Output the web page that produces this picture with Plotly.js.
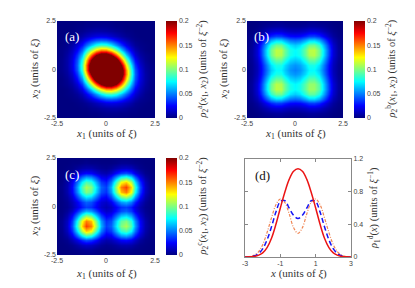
<!DOCTYPE html>
<html>
<head>
<meta charset="utf-8">
<script src="https://cdn.plot.ly/plotly-3.0.1.min.js"></script>
<style>html,body{margin:0;padding:0;background:#fff;}#chart{width:415px;height:288px;}</style>
</head>
<body>
<div id="chart"></div>
<script>
// ---------- DATA ----------
const gridX = [-2.5,-2.25,-2,-1.75,-1.5,-1.25,-1,-0.75,-0.5,-0.25,0,0.25,0.5,0.75,1,1.25,1.5,1.75,2,2.25,2.5];

// panel (a): rho_2(x1,x2), rows = x2 from -2.5 to 2.5, columns = x1
const zA = [
[0,0,0,0,0,0,0,0,0,0.001,0.001,0.001,0.001,0.001,0.001,0,0,0,0,0,0],
[0,0,0,0,0,0,0,0.001,0.001,0.002,0.003,0.003,0.003,0.002,0.002,0.001,0.001,0,0,0,0],
[0,0,0,0,0,0.001,0.001,0.003,0.004,0.006,0.007,0.008,0.008,0.007,0.005,0.003,0.002,0.001,0,0,0],
[0,0,0,0,0.001,0.002,0.004,0.007,0.011,0.015,0.019,0.020,0.019,0.016,0.012,0.008,0.004,0.002,0.001,0,0],
[0,0,0,0.001,0.002,0.005,0.010,0.017,0.026,0.035,0.042,0.044,0.041,0.034,0.024,0.016,0.009,0.004,0.002,0.001,0],
[0,0,0.001,0.002,0.005,0.011,0.021,0.036,0.054,0.072,0.084,0.087,0.079,0.063,0.045,0.028,0.016,0.008,0.003,0.001,0],
[0,0,0.001,0.004,0.010,0.021,0.040,0.067,0.099,0.128,0.147,0.149,0.133,0.105,0.073,0.045,0.024,0.012,0.005,0.002,0.001],
[0,0.001,0.003,0.007,0.017,0.036,0.067,0.110,0.159,0.202,0.228,0.226,0.199,0.154,0.105,0.063,0.034,0.016,0.007,0.002,0.001],
[0,0.001,0.004,0.011,0.026,0.054,0.099,0.159,0.225,0.282,0.312,0.304,0.262,0.199,0.133,0.079,0.041,0.019,0.008,0.003,0.001],
[0.001,0.002,0.006,0.015,0.035,0.072,0.128,0.202,0.282,0.346,0.376,0.360,0.304,0.226,0.149,0.087,0.044,0.020,0.008,0.003,0.001],
[0.001,0.003,0.007,0.019,0.042,0.084,0.147,0.228,0.312,0.376,0.400,0.376,0.312,0.228,0.147,0.084,0.042,0.019,0.007,0.003,0.001],
[0.001,0.003,0.008,0.020,0.044,0.087,0.149,0.226,0.304,0.360,0.376,0.346,0.282,0.202,0.128,0.072,0.035,0.015,0.006,0.002,0.001],
[0.001,0.003,0.008,0.019,0.041,0.079,0.133,0.199,0.262,0.304,0.312,0.282,0.225,0.159,0.099,0.054,0.026,0.011,0.004,0.001,0],
[0.001,0.002,0.007,0.016,0.034,0.063,0.105,0.154,0.199,0.226,0.228,0.202,0.159,0.110,0.067,0.036,0.017,0.007,0.003,0.001,0],
[0.001,0.002,0.005,0.012,0.024,0.045,0.073,0.105,0.133,0.149,0.147,0.128,0.099,0.067,0.040,0.021,0.010,0.004,0.001,0,0],
[0,0.001,0.003,0.008,0.016,0.028,0.045,0.063,0.079,0.087,0.084,0.072,0.054,0.036,0.021,0.011,0.005,0.002,0.001,0,0],
[0,0.001,0.002,0.004,0.009,0.016,0.024,0.034,0.041,0.044,0.042,0.035,0.026,0.017,0.010,0.005,0.002,0.001,0,0,0],
[0,0,0.001,0.002,0.004,0.008,0.012,0.016,0.019,0.020,0.019,0.015,0.011,0.007,0.004,0.002,0.001,0,0,0,0],
[0,0,0,0.001,0.002,0.003,0.005,0.007,0.008,0.008,0.007,0.006,0.004,0.003,0.001,0.001,0,0,0,0,0],
[0,0,0,0,0.001,0.001,0.002,0.002,0.003,0.003,0.003,0.002,0.001,0.001,0,0,0,0,0,0,0],
[0,0,0,0,0,0,0.001,0.001,0.001,0.001,0.001,0.001,0,0,0,0,0,0,0,0,0]
];

// panel (b)
const zB = [
[0,0,0,0.001,0.001,0.001,0.002,0.002,0.001,0.001,0.001,0.001,0.001,0.002,0.002,0.001,0.001,0.001,0,0,0],
[0,0,0.001,0.002,0.004,0.005,0.006,0.006,0.005,0.004,0.004,0.004,0.005,0.006,0.006,0.005,0.004,0.002,0.001,0,0],
[0,0.001,0.003,0.006,0.010,0.015,0.017,0.017,0.014,0.012,0.011,0.012,0.014,0.017,0.017,0.015,0.010,0.006,0.003,0.001,0],
[0.001,0.002,0.006,0.012,0.022,0.032,0.037,0.036,0.031,0.026,0.025,0.026,0.031,0.036,0.037,0.032,0.022,0.012,0.006,0.002,0.001],
[0.001,0.004,0.010,0.022,0.040,0.058,0.067,0.066,0.057,0.048,0.045,0.048,0.057,0.066,0.067,0.058,0.040,0.022,0.010,0.004,0.001],
[0.001,0.005,0.015,0.032,0.058,0.084,0.097,0.096,0.083,0.070,0.065,0.070,0.083,0.094,0.093,0.081,0.056,0.031,0.015,0.005,0.001],
[0.002,0.006,0.017,0.037,0.067,0.097,0.112,0.111,0.095,0.080,0.075,0.080,0.093,0.106,0.105,0.092,0.064,0.036,0.017,0.006,0.002],
[0.002,0.006,0.017,0.036,0.066,0.096,0.111,0.109,0.094,0.079,0.074,0.079,0.092,0.104,0.104,0.091,0.063,0.035,0.017,0.006,0.002],
[0.001,0.005,0.014,0.031,0.057,0.083,0.095,0.094,0.081,0.068,0.064,0.068,0.081,0.092,0.092,0.080,0.056,0.031,0.014,0.005,0.001],
[0.001,0.004,0.012,0.026,0.048,0.070,0.080,0.079,0.068,0.058,0.054,0.058,0.068,0.079,0.080,0.070,0.048,0.026,0.012,0.004,0.001],
[0.001,0.004,0.011,0.025,0.045,0.065,0.075,0.074,0.064,0.054,0.050,0.054,0.064,0.074,0.075,0.065,0.045,0.025,0.011,0.004,0.001],
[0.001,0.004,0.012,0.026,0.048,0.070,0.080,0.079,0.068,0.058,0.054,0.058,0.068,0.079,0.080,0.070,0.048,0.026,0.012,0.004,0.001],
[0.001,0.005,0.014,0.031,0.057,0.083,0.095,0.094,0.081,0.068,0.064,0.068,0.081,0.094,0.095,0.083,0.057,0.031,0.014,0.005,0.001],
[0.002,0.006,0.017,0.036,0.066,0.096,0.111,0.109,0.094,0.079,0.074,0.079,0.094,0.109,0.111,0.096,0.066,0.036,0.017,0.006,0.002],
[0.002,0.006,0.017,0.037,0.067,0.097,0.112,0.111,0.095,0.080,0.075,0.080,0.095,0.111,0.112,0.097,0.067,0.037,0.017,0.006,0.002],
[0.001,0.005,0.015,0.032,0.058,0.084,0.097,0.096,0.083,0.070,0.065,0.070,0.083,0.096,0.097,0.084,0.058,0.032,0.015,0.005,0.001],
[0.001,0.004,0.010,0.022,0.040,0.058,0.067,0.066,0.057,0.048,0.045,0.048,0.057,0.066,0.067,0.058,0.040,0.022,0.010,0.004,0.001],
[0.001,0.002,0.006,0.012,0.022,0.032,0.037,0.036,0.031,0.026,0.025,0.026,0.031,0.036,0.037,0.032,0.022,0.012,0.006,0.002,0.001],
[0,0.001,0.003,0.006,0.010,0.015,0.017,0.017,0.014,0.012,0.011,0.012,0.014,0.017,0.017,0.015,0.010,0.006,0.003,0.001,0],
[0,0,0.001,0.002,0.004,0.005,0.006,0.006,0.005,0.004,0.004,0.004,0.005,0.006,0.006,0.005,0.004,0.002,0.001,0,0],
[0,0,0,0.001,0.001,0.001,0.002,0.002,0.001,0.001,0.001,0.001,0.001,0.002,0.002,0.001,0.001,0.001,0,0,0]
];

// panel (c)
const zC = [
[0,0,0,0,0,0.001,0.001,0.001,0.001,0,0,0,0,0,0.001,0,0,0,0,0,0],
[0,0,0,0.001,0.002,0.003,0.004,0.004,0.002,0.001,0.001,0.001,0.002,0.002,0.003,0.002,0.001,0.001,0,0,0],
[0,0,0.001,0.003,0.007,0.012,0.014,0.013,0.009,0.005,0.003,0.004,0.006,0.009,0.009,0.008,0.005,0.002,0.001,0,0],
[0,0.001,0.003,0.010,0.020,0.033,0.040,0.036,0.026,0.014,0.009,0.011,0.017,0.024,0.026,0.022,0.014,0.006,0.002,0.001,0],
[0,0.002,0.007,0.020,0.043,0.069,0.084,0.077,0.054,0.031,0.019,0.022,0.037,0.052,0.056,0.046,0.029,0.014,0.005,0.001,0],
[0.001,0.003,0.012,0.033,0.069,0.111,0.134,0.124,0.087,0.049,0.030,0.036,0.059,0.083,0.090,0.074,0.046,0.022,0.008,0.002,0],
[0.001,0.004,0.014,0.040,0.084,0.134,0.163,0.150,0.106,0.060,0.037,0.044,0.071,0.100,0.109,0.090,0.056,0.026,0.009,0.003,0.001],
[0.001,0.004,0.013,0.036,0.077,0.124,0.150,0.138,0.097,0.055,0.034,0.040,0.066,0.093,0.100,0.083,0.052,0.024,0.009,0.002,0],
[0.001,0.002,0.009,0.026,0.054,0.087,0.106,0.097,0.068,0.039,0.024,0.028,0.047,0.066,0.071,0.059,0.037,0.017,0.006,0.002,0],
[0,0.001,0.005,0.014,0.031,0.049,0.060,0.055,0.039,0.022,0.014,0.017,0.028,0.040,0.044,0.036,0.022,0.011,0.004,0.001,0],
[0,0.001,0.003,0.009,0.019,0.030,0.037,0.034,0.024,0.014,0.010,0.014,0.024,0.034,0.037,0.030,0.019,0.009,0.003,0.001,0],
[0,0.001,0.004,0.011,0.022,0.036,0.044,0.040,0.028,0.017,0.014,0.022,0.039,0.055,0.060,0.049,0.031,0.014,0.005,0.001,0],
[0,0.002,0.006,0.017,0.037,0.059,0.071,0.066,0.047,0.028,0.024,0.039,0.068,0.097,0.106,0.087,0.054,0.026,0.009,0.002,0.001],
[0,0.002,0.009,0.024,0.052,0.083,0.100,0.093,0.066,0.040,0.034,0.055,0.097,0.138,0.150,0.124,0.077,0.036,0.013,0.004,0.001],
[0.001,0.003,0.009,0.026,0.056,0.090,0.109,0.100,0.071,0.044,0.037,0.060,0.106,0.150,0.163,0.134,0.084,0.040,0.014,0.004,0.001],
[0,0.002,0.008,0.022,0.046,0.074,0.090,0.083,0.059,0.036,0.030,0.049,0.087,0.124,0.134,0.111,0.069,0.033,0.012,0.003,0.001],
[0,0.001,0.005,0.014,0.029,0.046,0.056,0.052,0.037,0.022,0.019,0.031,0.054,0.077,0.084,0.069,0.043,0.020,0.007,0.002,0],
[0,0.001,0.002,0.006,0.014,0.022,0.026,0.024,0.017,0.011,0.009,0.014,0.026,0.036,0.040,0.033,0.020,0.010,0.003,0.001,0],
[0,0,0.001,0.002,0.005,0.008,0.009,0.009,0.006,0.004,0.003,0.005,0.009,0.013,0.014,0.012,0.007,0.003,0.001,0,0],
[0,0,0,0.001,0.001,0.002,0.003,0.002,0.002,0.001,0.001,0.001,0.002,0.004,0.004,0.003,0.002,0.001,0,0,0],
[0,0,0,0,0,0,0.001,0,0,0,0,0,0.001,0.001,0.001,0.001,0,0,0,0,0]
];

// panel (d): rho_1(x)
const xLine = [-3,-2.75,-2.5,-2.25,-2,-1.75,-1.5,-1.25,-1,-0.75,-0.5,-0.25,0,0.25,0.5,0.75,1,1.25,1.5,1.75,2,2.25,2.5,2.75,3];
const rhoRed    = [0,0.002,0.006,0.02,0.05,0.115,0.23,0.40,0.60,0.79,0.95,1.05,1.08,1.05,0.95,0.79,0.60,0.40,0.23,0.115,0.05,0.02,0.006,0.002,0];
const rhoBlue   = [0,0.003,0.012,0.04,0.10,0.21,0.37,0.55,0.68,0.69,0.60,0.51,0.47,0.51,0.60,0.69,0.68,0.55,0.37,0.21,0.10,0.04,0.012,0.003,0];
const rhoOrange = [0,0.005,0.02,0.06,0.15,0.30,0.48,0.64,0.71,0.67,0.53,0.36,0.29,0.36,0.53,0.67,0.71,0.64,0.48,0.30,0.15,0.06,0.02,0.005,0];

const mapTicks = [-2.5,0,2.5];
const mapTickText = ['-2.5','0','2.5'];
const cbTicks = [0,0.05,0.1,0.15,0.2];
const cbTickText = ['0','0.05','0.1','0.15','0.2'];
const dXTicks = [-3,-1,1,3];
const dXTickText = ['-3','-1','1','3'];
const dYTicks = [0,0.4,0.8,1.2];
const dYTickText = ['0','0.4','0.8','1.2'];

// ---------- LAYOUT HELPERS ----------
const W = 415, H = 288;
const fx = p => p / W;
const fy = p => 1 - p / H;

const jet = [[0,'rgb(0,0,128)'],[0.125,'rgb(0,0,255)'],[0.375,'rgb(0,255,255)'],[0.625,'rgb(255,255,0)'],[0.875,'rgb(255,0,0)'],[1,'rgb(128,0,0)']];
const tickFont = {family:'Liberation Sans, Arial, sans-serif', size:7, color:'#444'};
const serif = 'Liberation Serif, Times New Roman, serif';

function cbar(left, top, bottom){
  return {x:fx(left), xanchor:'left', y:fy((top+bottom)/2), yanchor:'middle',
    len:(bottom-top)/H, lenmode:'fraction', thickness:11, thicknessmode:'pixels',
    xpad:0, ypad:0, outlinewidth:0, tickvals:cbTicks, ticktext:cbTickText, ticks:'',
    tickfont:tickFont};
}
function heat(z, xa, ya, cb){
  return {type:'heatmap', x:gridX, y:gridX, z:z, xaxis:xa, yaxis:ya, colorscale:jet,
    zmin:0, zmax:0.2, zauto:false, zsmooth:'best', colorbar:cb, hoverinfo:'skip'};
}
function mapAxis(domain, anchor){
  return {domain:domain, anchor:anchor, range:[-2.5,2.5], tickvals:mapTicks, ticktext:mapTickText,
    ticks:'', showgrid:false, zeroline:false, showline:false, tickfont:tickFont, fixedrange:true};
}

const traces = [
  heat(zA,'x','y', cbar(166,21,118)),
  heat(zB,'x2','y2', cbar(354,21,118)),
  heat(zC,'x3','y3', cbar(166,158,255)),
  {type:'scatter', mode:'lines', x:xLine, y:rhoOrange, xaxis:'x4', yaxis:'y4',
   line:{color:'rgb(240,135,85)', width:1.2, dash:'3px,1.5px,1px,1.5px', shape:'spline'}, hoverinfo:'skip'},
  {type:'scatter', mode:'lines', x:xLine, y:rhoBlue, xaxis:'x4', yaxis:'y4',
   line:{color:'rgb(20,20,245)', width:1.5, dash:'5px,3px', shape:'spline'}, hoverinfo:'skip'},
  {type:'scatter', mode:'lines', x:xLine, y:rhoRed, xaxis:'x4', yaxis:'y4',
   line:{color:'rgb(235,20,20)', width:1.5, shape:'spline'}, hoverinfo:'skip'}
];

function ann(text, xp, yp, opts){
  return Object.assign({text:text, x:fx(xp), y:fy(yp), xref:'paper', yref:'paper', showarrow:false,
    xanchor:'center', yanchor:'middle', font:{family:serif, size:11, color:'#333'}}, opts||{});
}
const xTitle = '<i>x</i><sub>1</sub> (units of <i>ξ</i>)';
const yTitle = '<i>x</i><sub>2</sub> (units of <i>ξ</i>)';
const cbT = l => '<i>ρ</i><sub>2</sub><sup>' + l + '</sup>(<i>x</i><sub>1</sub>, <i>x</i><sub>2</sub>) (units of <i>ξ</i><sup>−2</sup>)';
const cbFont = {family:serif, size:10.5, color:'#333'};

const annotations = [
  ann(yTitle, 34, 69.5, {textangle:-90}),
  ann(xTitle, 106, 134),
  ann(cbT('a'), 202, 69.5, {textangle:-90, font:cbFont}),
  ann(yTitle, 223, 69.5, {textangle:-90}),
  ann(xTitle, 295, 134),
  ann(cbT('b'), 391, 69.5, {textangle:-90, font:cbFont}),
  ann(yTitle, 34, 206.5, {textangle:-90}),
  ann(xTitle, 106, 274),
  ann(cbT('c'), 202, 206.5, {textangle:-90, font:cbFont}),
  ann('<i>x</i> (units of <i>ξ</i>)', 298, 273),
  ann('<i>ρ</i><sub>1</sub><sup>d</sup>(<i>x</i>) (units of <i>ξ</i><sup>−1</sup>)', 374, 208, {textangle:-90, font:cbFont}),
  ann('(a)', 72, 36, {font:{family:serif, size:13, color:'#fff'}}),
  ann('(b)', 261, 36, {font:{family:serif, size:13, color:'#fff'}}),
  ann('(c)', 72, 174, {font:{family:serif, size:13, color:'#fff'}}),
  ann('(d)', 262, 175, {font:{family:serif, size:13, color:'#111'}})
];

const layout = {
  width:W, height:H, margin:{l:0,r:0,t:0,b:0, autoexpand:false},
  paper_bgcolor:'#fff', plot_bgcolor:'#fff', showlegend:false,
  xaxis: mapAxis([fx(57),fx(155)],'y'),
  yaxis: mapAxis([fy(118),fy(21)],'x'),
  xaxis2: mapAxis([fx(247),fx(343)],'y2'),
  yaxis2: mapAxis([fy(118),fy(21)],'x2'),
  xaxis3: mapAxis([fx(57),fx(155)],'y3'),
  yaxis3: mapAxis([fy(255),fy(158)],'x3'),
  xaxis4: {domain:[fx(245),fx(351)], anchor:'y4', range:[-3,3], tickvals:dXTicks, ticktext:dXTickText,
    ticks:'inside', ticklen:3, tickcolor:'#888', showline:true, mirror:'ticks', linecolor:'#888', linewidth:1,
    showgrid:false, zeroline:false, tickfont:tickFont, fixedrange:true},
  yaxis4: {domain:[fy(257),fy(159)], anchor:'x4', side:'right', range:[0,1.2], tickvals:dYTicks, ticktext:dYTickText,
    ticks:'inside', ticklen:3, tickcolor:'#888', showline:true, mirror:'ticks', linecolor:'#888', linewidth:1,
    showgrid:false, zeroline:false, tickfont:tickFont, fixedrange:true},
  annotations: annotations
};

Plotly.newPlot('chart', traces, layout, {staticPlot:true, displayModeBar:false});
</script>
</body>
</html>
